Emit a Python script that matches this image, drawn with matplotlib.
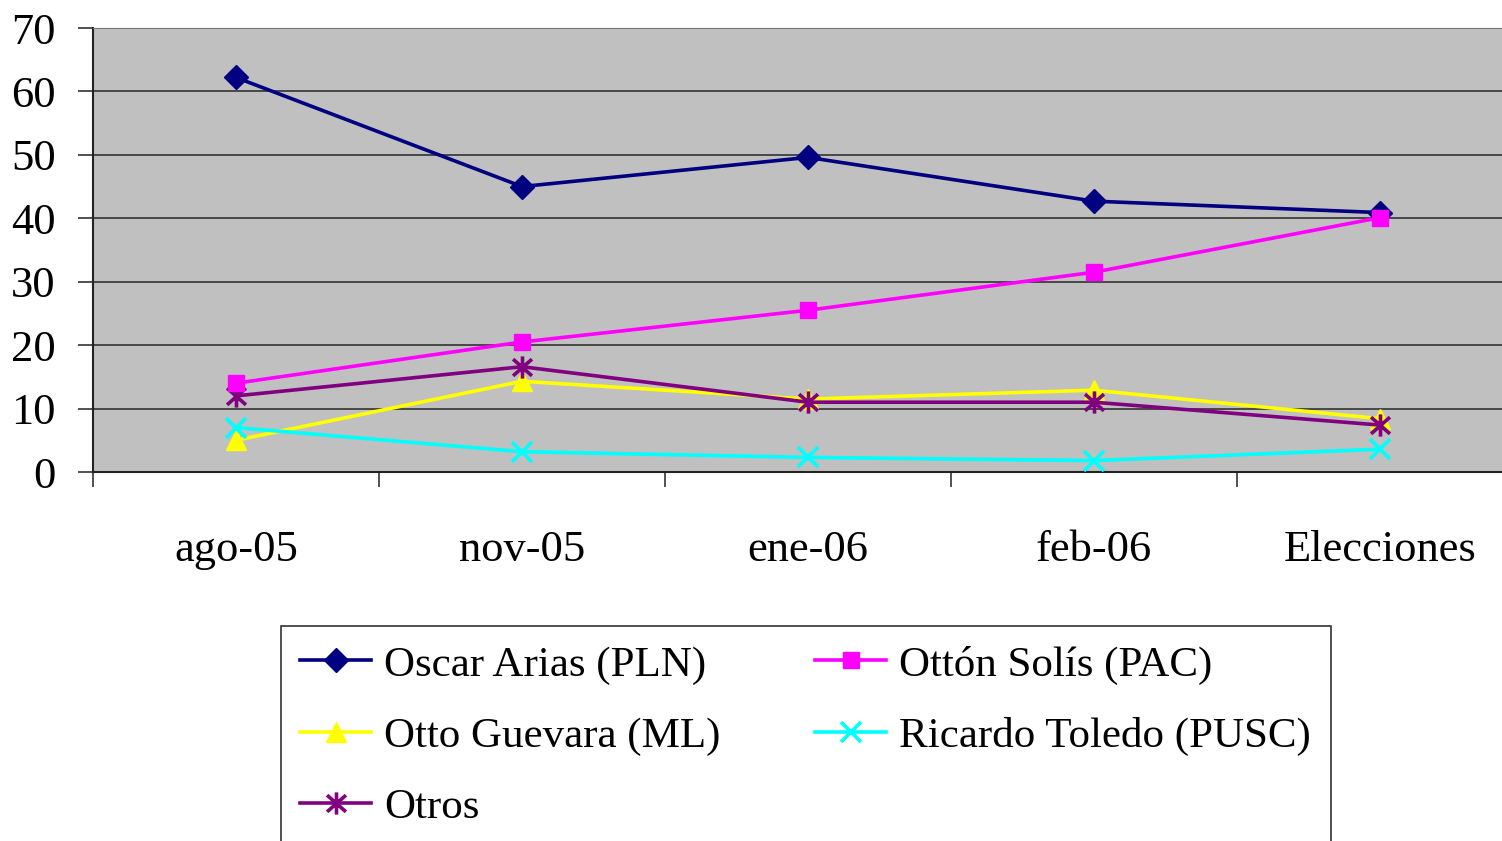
import matplotlib
matplotlib.use("Agg")
import matplotlib.pyplot as plt
from matplotlib.path import Path
import numpy as np

categories = ["ago-05", "nov-05", "ene-06", "feb-06", "Elecciones"]
arias = [62.2, 45.0, 49.6, 42.7, 40.9]
solis = [14.0, 20.5, 25.5, 31.5, 40.1]
guevara = [5.0, 14.3, 11.5, 12.9, 8.4]
toledo = [7.0, 3.2, 2.3, 1.8, 3.6]
otros = [12.0, 16.6, 11.0, 11.0, 7.4]
series_names = ["Oscar Arias (PLN)", "Ottón Solís (PAC)", "Otto Guevara (ML)",
                "Ricardo Toledo (PUSC)", "Otros"]
yticks = [0, 10, 20, 30, 40, 50, 60, 70]

plt.rcParams['font.family'] = ['Liberation Serif', 'DejaVu Serif']

W, H = 1502, 841
fig = plt.figure(figsize=(W / 100, H / 100), dpi=100)
ax = fig.add_axes([93 / W, 1 - 472 / H, 1430 / W, 444 / H])
ax.set_facecolor('#C0C0C0')

star = Path([(0, -1), (0, 1), (-0.85, -0.75), (0.85, 0.75), (-0.85, 0.75), (0.85, -0.75)],
            [Path.MOVETO, Path.LINETO, Path.MOVETO, Path.LINETO, Path.MOVETO, Path.LINETO])

x = np.arange(len(categories))
lw = 2.6
h1, = ax.plot(x, arias, color='#000080', lw=lw, marker='D', ms=12, mec='#000080', label=series_names[0], zorder=5)
h2, = ax.plot(x, solis, color='#FF00FF', lw=lw, marker='s', ms=12, mec='#FF00FF', label=series_names[1], zorder=5)
h3, = ax.plot(x, guevara, color='#FFFF00', lw=lw, marker='^', ms=14, mec='#FFFF00', label=series_names[2], zorder=4)
h4, = ax.plot(x, toledo, color='#00FFFF', lw=lw, marker='x', ms=14, mew=2.6, label=series_names[3], zorder=4)
h5, = ax.plot(x, otros, color='#800080', lw=lw, marker=star, ms=16, mew=2.6, mec='#800080', mfc='none', label=series_names[4], zorder=4)

ax.set_xlim(-0.5, 4.5)
ax.set_ylim(0, 70)
ax.set_yticks(yticks)
ax.set_yticklabels([str(v) for v in yticks], fontsize=32)
ax.yaxis.grid(True, color='#333333', lw=1.2)
ax.set_axisbelow(True)

ax.set_xticks(x)
ax.set_xticklabels(categories, fontsize=32)
ax.set_xticks(np.arange(-0.5, 4.6, 1.0), minor=True)
ax.tick_params(axis='x', which='major', length=0, pad=42)
ax.tick_params(axis='x', which='minor', length=11, width=1.2, direction='out', color='#333333')
ax.tick_params(axis='y', length=11, width=1.2, direction='out', pad=16, color='#333333')

for s in ['left', 'bottom']:
    ax.spines[s].set_color('#222222')
    ax.spines[s].set_linewidth(1.5)
ax.spines['top'].set_color('#777777')
ax.spines['right'].set_visible(False)

handles = [h1, h3, h5, h2, h4]
leg = fig.legend(handles, [h.get_label() for h in handles],
                 loc='upper left', bbox_to_anchor=(281 / W, 1 - 626 / H), ncol=2,
                 fontsize=31, frameon=True, fancybox=False, framealpha=1,
                 edgecolor='#333333', handlelength=1.65, handletextpad=0.3,
                 columnspacing=2.2, labelspacing=0.75, borderpad=0.45, borderaxespad=0)
leg.get_frame().set_linewidth(1.2)

fig.savefig('out.png', dpi=100)
